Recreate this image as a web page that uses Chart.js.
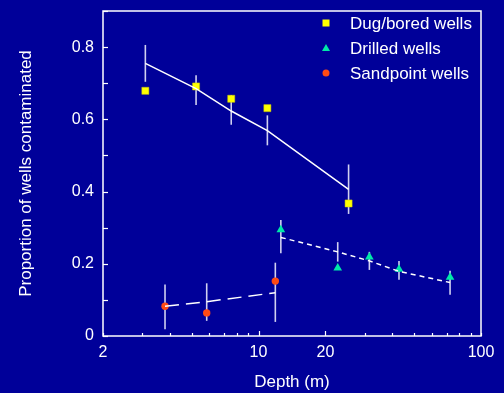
<!DOCTYPE html>
<html>
<head>
<meta charset="utf-8">
<script src="https://cdn.jsdelivr.net/npm/chart.js@4"></script>
<style>
  html, body { margin: 0; padding: 0; background: #000099; }
  #wrap { width: 504px; height: 393px; }
</style>
</head>
<body>
<div id="wrap"><canvas id="wellChart"></canvas></div>
<script>
// depth (m) and proportion contaminated
const dugDepth = [3.1, 5.24, 7.54, 10.96, 25.4];
const dugProp = [0.679, 0.691, 0.657, 0.631, 0.367];
const dugFit = [0.755, 0.685, 0.623, 0.569, 0.406];
const dugHi = [0.806, 0.722, 0.667, 0.611, 0.475];
const dugLo = [0.704, 0.640, 0.585, 0.528, 0.338];

const drillDepth = [12.6, 22.7, 31.5, 42.8, 72.6];
const drillProp = [0.294, 0.188, 0.219, 0.185, 0.163];
const drillFit = [0.273, 0.233, 0.208, 0.179, 0.148];
const drillHi = [0.321, 0.260, 0.233, 0.208, 0.181];
const drillLo = [0.229, 0.206, 0.183, 0.156, 0.114];

const sandDepth = [3.8, 5.85, 11.9];
const sandProp = [0.0825, 0.064, 0.152];
const sandFit = [0.0825, 0.095, 0.120];
const sandHi = [0.1425, 0.146, 0.203];
const sandLo = [0.0186, 0.042, 0.039];

const xTickValues = [2, 3, 4, 5, 6, 7, 8, 9, 10, 20, 30, 40, 50, 60, 70, 80, 90, 100];
const xTickLabels = { 2: '2', 10: '10', 20: '20', 100: '100' };
const yTickValues = [0, 0.1, 0.2, 0.3, 0.4, 0.5, 0.6, 0.7, 0.8, 0.9];

const legendNames = ['Dug/bored wells', 'Drilled wells', 'Sandpoint wells'];
const legendColors = ['#ffff00', '#00e8a8', '#ff4a14'];
const legendShapes = ['rect', 'triangle', 'circle'];

const FONT = '"Liberation Sans", Arial, sans-serif';

function pts(xs, ys) {
  return xs.map((x, i) => ({ x: x, y: ys[i] }));
}

// error bars, frame, inward ticks and legend
const extrasPlugin = {
  id: 'extras',
  beforeDatasetsDraw(chart) {
    const ctx = chart.ctx;
    const xs = chart.scales.x, ys = chart.scales.y;
    const groups = [[dugDepth, dugLo, dugHi], [drillDepth, drillLo, drillHi], [sandDepth, sandLo, sandHi]];
    ctx.save();
    ctx.strokeStyle = '#d0d0f0';
    ctx.lineWidth = 1.6;
    groups.forEach(g => {
      g[0].forEach((d, i) => {
        const px = xs.getPixelForValue(d);
        ctx.beginPath();
        ctx.moveTo(px, ys.getPixelForValue(g[1][i]));
        ctx.lineTo(px, ys.getPixelForValue(g[2][i]));
        ctx.stroke();
      });
    });
    ctx.restore();
  },
  afterDraw(chart) {
    const ctx = chart.ctx;
    const a = chart.chartArea;
    const xs = chart.scales.x, ys = chart.scales.y;
    ctx.save();
    ctx.strokeStyle = '#ffffff';
    ctx.lineWidth = 1.5;
    ctx.strokeRect(a.left, a.top, a.right - a.left, a.bottom - a.top);
    ctx.lineWidth = 1.2;
    xTickValues.forEach(v => {
      const px = Math.round(xs.getPixelForValue(v)) + 0.5;
      const len = (v === 10 || v === 20) ? 5 : 3;
      ctx.beginPath();
      ctx.moveTo(px, a.bottom);
      ctx.lineTo(px, a.bottom - len);
      ctx.stroke();
    });
    yTickValues.forEach(v => {
      const py = Math.round(ys.getPixelForValue(v)) + 0.5;
      ctx.beginPath();
      ctx.moveTo(a.left, py);
      ctx.lineTo(a.left + 5, py);
      ctx.stroke();
    });

    // legend
    ctx.font = '17px ' + FONT;
    ctx.textBaseline = 'middle';
    ctx.textAlign = 'left';
    legendNames.forEach((name, i) => {
      const cy = 23 + i * 25;
      const cx = 326;
      ctx.fillStyle = legendColors[i];
      ctx.beginPath();
      if (legendShapes[i] === 'rect') {
        ctx.rect(cx - 3.5, cy - 3.5, 7, 7);
      } else if (legendShapes[i] === 'triangle') {
        ctx.moveTo(cx, cy - 4);
        ctx.lineTo(cx + 4, cy + 3);
        ctx.lineTo(cx - 4, cy + 3);
        ctx.closePath();
      } else {
        ctx.arc(cx, cy, 3.5, 0, Math.PI * 2);
      }
      ctx.fill();
      ctx.fillStyle = '#ffffff';
      ctx.fillText(name, 350, cy + 1);
    });
    ctx.restore();
  }
};

const ctx = document.getElementById('wellChart').getContext('2d');
window.myWellChart = new Chart(ctx, {
  type: 'scatter',
  data: {
    datasets: [
      {
        label: 'dug fit',
        type: 'line',
        data: pts(dugDepth, dugFit),
        borderColor: '#ffffff',
        borderWidth: 1.5,
        pointRadius: 0,
        fill: false,
      },
      {
        label: 'drilled fit',
        type: 'line',
        data: pts(drillDepth, drillFit),
        borderColor: '#ffffff',
        borderWidth: 1.5,
        borderDash: [5, 4],
        pointRadius: 0,
        fill: false,
      },
      {
        label: 'sand fit',
        type: 'line',
        data: pts(sandDepth, sandFit),
        borderColor: '#ffffff',
        borderWidth: 1.5,
        borderDash: [14, 7],
        pointRadius: 0,
        fill: false,
      },
      {
        label: legendNames[0],
        data: pts(dugDepth, dugProp),
        pointStyle: 'rect',
        pointRadius: 5,
        backgroundColor: legendColors[0],
        borderColor: '#c8c800',
        borderWidth: 0.5,
      },
      {
        label: legendNames[1],
        data: pts(drillDepth, drillProp),
        pointStyle: 'triangle',
        pointRadius: 5,
        backgroundColor: legendColors[1],
        borderColor: legendColors[1],
        borderWidth: 0,
      },
      {
        label: legendNames[2],
        data: pts(sandDepth, sandProp),
        pointStyle: 'circle',
        pointRadius: 3.7,
        backgroundColor: legendColors[2],
        borderColor: legendColors[2],
        borderWidth: 0,
      },
    ],
  },
  options: {
    responsive: true,
    maintainAspectRatio: false,
    animation: false,
    layout: { padding: { top: 11, right: 23, left: 0, bottom: 0 } },
    plugins: {
      legend: { display: false },
      tooltip: { enabled: false },
    },
    scales: {
      x: {
        type: 'logarithmic',
        min: 2,
        max: 100,
        afterBuildTicks: (scale) => {
          scale.ticks = xTickValues.map(v => ({ value: v }));
        },
        afterFit: (scale) => {
          scale.height = 57;
          scale.paddingLeft = 0;
          scale.paddingRight = 0;
        },
        ticks: {
          autoSkip: false,
          maxRotation: 0,
          color: '#ffffff',
          padding: 7,
          font: { family: FONT, size: 16 },
          callback: (v) => xTickLabels[v] || '',
        },
        grid: { display: false, drawTicks: false },
        border: { display: false },
        title: {
          display: true,
          text: 'Depth (m)',
          color: '#ffffff',
          font: { family: FONT, size: 17 },
          padding: { top: 8, bottom: 0 },
        },
      },
      y: {
        min: 0,
        max: 0.9,
        afterBuildTicks: (scale) => {
          scale.ticks = yTickValues.map(v => ({ value: v }));
        },
        afterFit: (scale) => {
          scale.width = 103;
          scale.paddingTop = 0;
          scale.paddingBottom = 0;
        },
        ticks: {
          color: '#ffffff',
          padding: 9,
          font: { family: FONT, size: 16 },
          callback: (v) => {
            const r = Math.round(v * 10);
            if (r % 2 !== 0 || r > 8) return '';
            return r === 0 ? '0' : (r / 10).toFixed(1);
          },
        },
        grid: { display: false, drawTicks: false },
        border: { display: false },
        title: {
          display: true,
          text: 'Proportion of wells contaminated',
          color: '#ffffff',
          font: { family: FONT, size: 17 },
          padding: { top: 16, bottom: 0 },
        },
      },
    },
  },
  plugins: [extrasPlugin],
});
</script>
</body>
</html>
